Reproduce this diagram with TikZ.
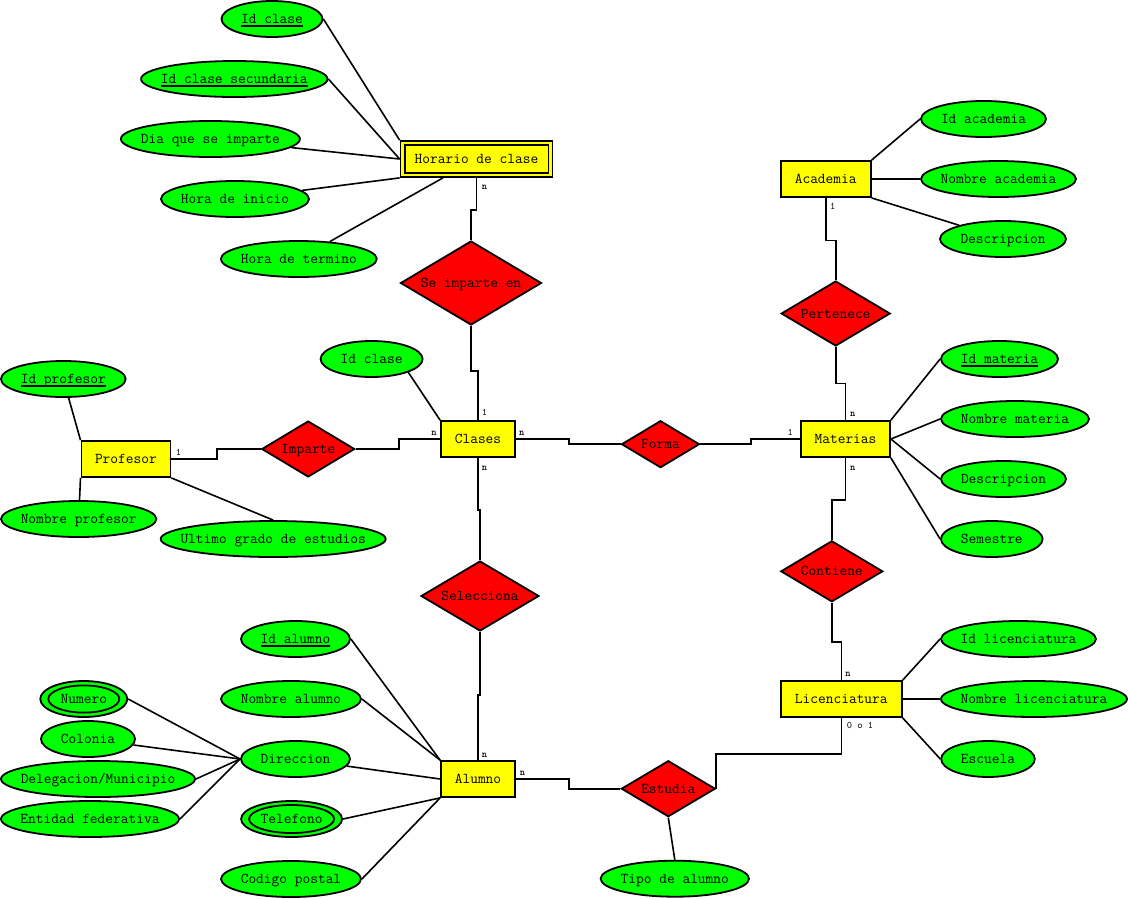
\documentclass[tikz,border=0pt]{standalone}
\usepackage{fontspec}
\usetikzlibrary{shapes.geometric}
\definecolor{entfill}{RGB}{255,255,0}
\definecolor{attfill}{RGB}{0,255,0}
\definecolor{relfill}{RGB}{255,0,0}
% zero-width centred text, so minimum sizes alone fix the shape
\newcommand\zw[1]{\makebox[0pt]{#1}}
% underlined key attribute
\newcommand\keytext[1]{\setbox0\hbox{#1}\rlap{\rule[-3.4pt]{\wd0}{1.6pt}}\box0}
\begin{document}
\begin{tikzpicture}[x=1pt,y=-1pt,
  every node/.style={font=\ttfamily\fontsize{15}{18}\selectfont, inner sep=0pt,
    line width=1.8pt, text height=9pt, text depth=0pt},
  entity/.style={draw, fill=entfill, rectangle, minimum height=36pt},
  attr/.style={draw, fill=attfill, ellipse, minimum height=36pt},
  rel/.style={draw, fill=relfill, diamond},
  card/.style={font=\ttfamily\fontsize{10}{12}\selectfont, text height=5.5pt, text depth=0pt},
  many/.style={card, font=\ttfamily\bfseries\fontsize{10}{12}\selectfont},
  link/.style={line width=1.6pt},
  inner/.style={line width=1.8pt},
]
\useasboundingbox (0,0) rectangle (1128,898);

% ---------- entities ----------
\node[entity, minimum width=152pt] (hor) at (476.5,159) {\zw{Horario de clase}};
\draw[inner] ([xshift=5pt,yshift=-5pt]hor.north west) rectangle ([xshift=-5pt,yshift=5pt]hor.south east);
\node[entity, minimum width=90pt]  (aca) at (825.7,179) {\zw{Academia}};
\node[entity, minimum width=89pt]  (pro) at (125.9,459) {\zw{Profesor}};
\node[entity, minimum width=74pt]  (cla) at (478,439)   {\zw{Clases}};
\node[entity, minimum width=89pt]  (mat) at (845.5,439) {\zw{Materias}};
\node[entity, minimum width=74pt]  (alu) at (478,779)   {\zw{Alumno}};
\node[entity, minimum width=121pt] (lic) at (841.3,699) {\zw{Licenciatura}};

% ---------- relationships ----------
\node[rel, minimum width=141pt, minimum height=84pt] (sim) at (471,283)     {\zw{Se imparte en}};
\node[rel, minimum width=109pt, minimum height=65pt] (per) at (835.7,313.5) {\zw{Pertenece}};
\node[rel, minimum width=93pt,  minimum height=56pt] (imp) at (308.2,449)   {\zw{Imparte}};
\node[rel, minimum width=78pt,  minimum height=47pt] (frm) at (660.5,444.2) {\zw{Forma}};
\node[rel, minimum width=118pt, minimum height=70pt] (sel) at (480,596)     {\zw{Selecciona}};
\node[rel, minimum width=102pt, minimum height=61pt] (con) at (831.8,571.3) {\zw{Contiene}};
\node[rel, minimum width=94pt,  minimum height=56pt] (est) at (668.3,788.7) {\zw{Estudia}};

% ---------- attributes ----------
\node[attr, minimum width=101pt]   (aidc)  at (272,19)      {\zw{\keytext{Id clase}}};
\node[attr, minimum width=186.5pt] (aidcs) at (234.3,79)    {\zw{\keytext{Id clase secundaria}}};
\node[attr, minimum width=179pt]   (adia)  at (210.4,139)   {\zw{Dia que se imparte}};
\node[attr, minimum width=148pt]   (ahin)  at (235,199)     {\zw{Hora de inicio}};
\node[attr, minimum width=156pt]   (ahter) at (298.8,259)   {\zw{Hora de termino}};

\node[attr, minimum width=125pt]   (aidac) at (983.5,119)   {\zw{Id academia}};
\node[attr, minimum width=155pt]   (anoac) at (998.5,179)   {\zw{Nombre academia}};
\node[attr, minimum width=126pt]   (adeac) at (1003,239)    {\zw{Descripcion}};

\node[attr, minimum width=102pt]   (aidcl) at (371.6,359)   {\zw{Id clase}};

\node[attr, minimum width=124.7pt] (aidpr) at (63.3,379)    {\zw{\keytext{Id profesor}}};
\node[attr, minimum width=155.4pt] (anopr) at (78.7,519)    {\zw{Nombre profesor}};
\node[attr, minimum width=225pt]   (ault)  at (273.2,539)   {\zw{Ultimo grado de estudios}};

\node[attr, minimum width=117pt]   (aidma) at (999.5,359)   {\zw{\keytext{Id materia}}};
\node[attr, minimum width=148pt]   (anoma) at (1015,419)    {\zw{Nombre materia}};
\node[attr, minimum width=125pt]   (adema) at (1003.5,479)  {\zw{Descripcion}};
\node[attr, minimum width=101.6pt] (asem)  at (991.8,539)   {\zw{Semestre}};

\node[attr, minimum width=155pt]   (aidli) at (1018.5,639)  {\zw{Id licenciatura}};
\node[attr, minimum width=186pt]   (anoli) at (1034,699)    {\zw{Nombre licenciatura}};
\node[attr, minimum width=93.6pt]  (aesc)  at (988,759)     {\zw{Escuela}};

\node[attr, minimum width=148.4pt] (atipo) at (674.8,878.7) {\zw{Tipo de alumno}};

\node[attr, minimum width=109pt]   (aidal) at (295.5,639)   {\zw{\keytext{Id alumno}}};
\node[attr, minimum width=140pt]   (anoal) at (291,699)     {\zw{Nombre alumno}};
\node[attr, minimum width=109pt]   (adir)  at (295.5,759)   {\zw{Direccion}};
\node[attr, minimum width=101pt]   (atel)  at (291.6,819)   {\zw{Telefono}};
\draw[inner] (atel.center) ellipse [x radius=42.5pt, y radius=14pt];
\node[attr, minimum width=140pt]   (acp)   at (291,879)     {\zw{Codigo postal}};

\node[attr, minimum width=87pt]    (anum)  at (83.8,699)    {\zw{Numero}};
\draw[inner] (anum.center) ellipse [x radius=35.5pt, y radius=13.6pt];
\node[attr, minimum width=94pt]    (acol)  at (88,739)      {\zw{Colonia}};
\node[attr, minimum width=194pt]   (adel)  at (98,779)      {\zw{Delegacion/Municipio}};
\node[attr, minimum width=178pt]   (aent)  at (90,819)      {\zw{Entidad federativa}};

% ---------- attribute links ----------
\draw[link] (aidc.east) -- (hor.north west);
\draw[link] (aidcs.east) -- (hor.west);
\draw[link] (adia) -- (hor.west);
\draw[link] (ahin) -- (hor.south west);
\draw[link] (ahter) -- (hor);

\draw[link] (aca.north east) -- (aidac.west);
\draw[link] (aca.east) -- (anoac.west);
\draw[link] (aca.south east) -- (adeac);

\draw[link] (aidcl.south east) -- (cla.north west);

\draw[link] (aidpr) -- (pro.north west);
\draw[link] (anopr) -- (pro.south west);
\draw[link] (pro.south east) -- (ault.north);

\draw[link] (mat.north east) -- (aidma.west);
\draw[link] (mat.east) -- (anoma.west);
\draw[link] (mat.east) -- (adema.west);
\draw[link] (mat.south east) -- (asem.west);

\draw[link] (lic.north east) -- (aidli.west);
\draw[link] (lic.east) -- (anoli.west);
\draw[link] (lic.south east) -- (aesc.west);

\draw[link] (est.south) -- (atipo.north);

\draw[link] (aidal.east) -- (alu.north west);
\draw[link] (anoal.east) -- (alu.north west);
\draw[link] (adir) -- (alu.west);
\draw[link] (atel.east) -- (alu.south west);
\draw[link] (acp.east) -- (alu.south west);

\draw[link] (anum.east) -- (adir.west);
\draw[link] (acol) -- (adir.west);
\draw[link] (adel.east) -- (adir.west);
\draw[link] (aent.east) -- (adir.west);

% ---------- relationship links ----------
\draw[link] (hor.south) -- ++(0,32) -| (sim.north);
\draw[link] (cla.north) -- ++(0,-49) -| (sim.south);
\draw[link] (cla.south) -- ++(0,52) -| (sel.north);
\draw[link] (alu.north) -- ++(0,-65) -| (sel.south);
\draw[link] (pro.east) -- ++(45.6,0) |- (imp.west);
\draw[link] (imp.east) -- ++(43.4,0) |- (cla.west);
\draw[link] (cla.east) -- ++(53,0) |- (frm.west);
\draw[link] (frm.east) -- ++(50.5,0) |- (mat.west);
\draw[link] (aca.south) -- ++(0,42.5) -| (per.north);
\draw[link] (per.south) -- ++(0,36.7) -| (mat.north);
\draw[link] (mat.south) -- ++(0,42) -| (con.north);
\draw[link] (con.south) -- ++(0,39.5) -| (lic.north);
\draw[link] (lic.south) -- ++(0,36.3) -| (est.east);
\draw[link] (alu.east) -- ++(53,0) |- (est.west);

% ---------- cardinalities ----------
\node[many] (k1)  at (484.5,186.5) {n};
\node[card] (k2)  at (832.8,207)   {1};
\node[many] (k3)  at (852.7,413.7) {n};
\node[many] (k4)  at (852.7,467.3) {n};
\node[many] (k5)  at (848,673.3)   {n};
\node[card] (k6)  at (860,726)     {0 o 1};
\node[card] (k7)  at (484.6,413)   {1};
\node[many] (k8)  at (434,432.3)   {n};
\node[many] (k9)  at (521.8,432.3) {n};
\node[many] (k10) at (484.6,467.3) {n};
\node[card] (k11) at (790.3,432.3) {1};
\node[card] (k12) at (178.6,452.3) {1};
\node[many] (k13) at (484.6,754.7) {n};
\node[many] (k14) at (522.5,772.7) {n};
\end{tikzpicture}
\end{document}
